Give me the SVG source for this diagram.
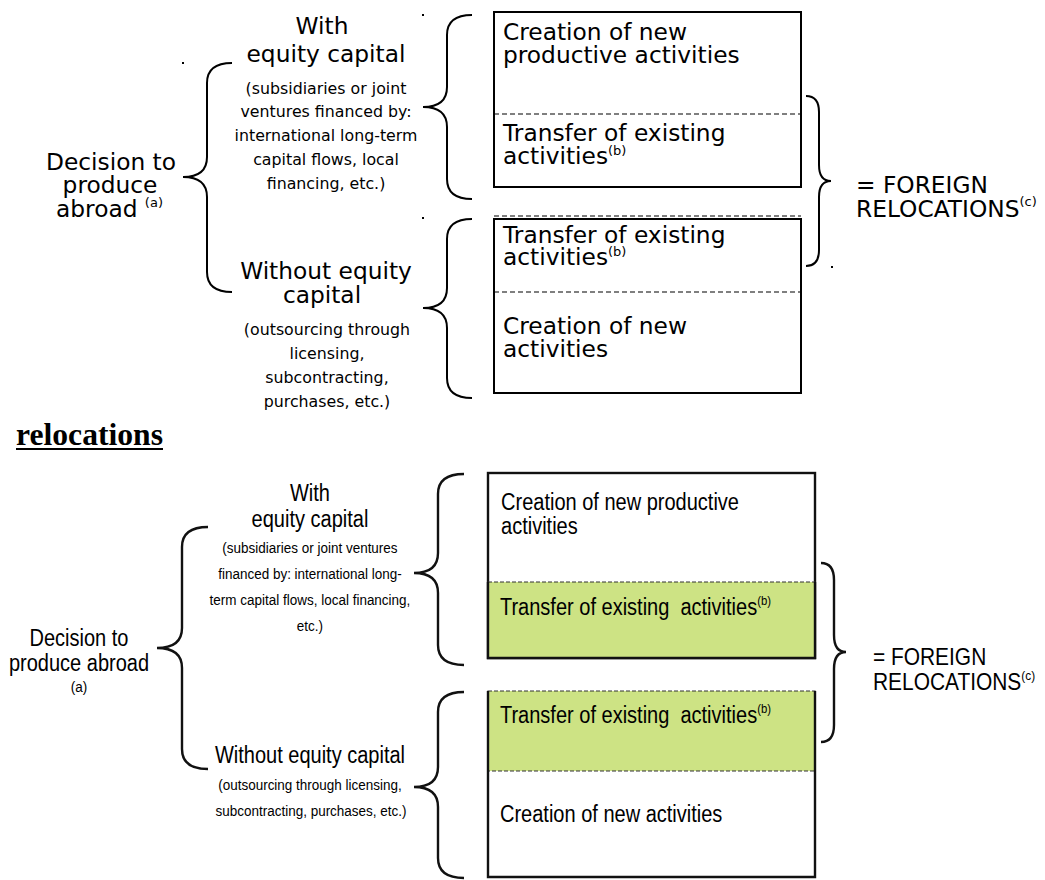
<svg xmlns="http://www.w3.org/2000/svg" width="1045" height="880" viewBox="0 0 1045 880">
<style>
.d{font-family:"DejaVu Sans","Noto Sans",sans-serif;font-size:23.3px;fill:#000}
.ds{font-family:"DejaVu Sans","Noto Sans",sans-serif;font-size:15.8px;fill:#000}
.a{font-family:"Liberation Sans",Arial,sans-serif;font-size:23px;fill:#000}
.as{font-family:"Liberation Sans",Arial,sans-serif;font-size:15.5px;fill:#000}
.sup{font-size:13px}
.mid{text-anchor:middle}
.brace{fill:none;stroke:#000;stroke-width:2}
.brace2{fill:none;stroke:#111;stroke-width:2.4}
.box{fill:#fff;stroke:#000;stroke-width:2}
.box2{fill:none;stroke:#111;stroke-width:2.4}
.dash{fill:none;stroke:#000;stroke-width:1.2;stroke-dasharray:5 3}
.green{fill:#cde384;stroke:#333;stroke-width:1.2;stroke-dasharray:4 2}
</style>

<!-- ===== TOP VERSION ===== -->
<g id="connectors-top">
<path class="brace" d="M232,63 Q207,63 207,83 L207,157 Q207,177 183,177 Q207,177 207,197 L207,272 Q207,292 232,292"/>
<path class="brace" d="M472,15 Q447,15 447,35 L447,87 Q447,107 423,107 Q447,107 447,127 L447,179 Q447,199 472,199"/>
<path class="brace" d="M472,219 Q447,219 447,239 L447,288 Q447,308 423,308 Q447,308 447,328 L447,378 Q447,398 472,398"/>
<path class="brace" d="M806,96 Q819,96 819,112 L819,165 Q819,181 831,181 Q819,181 819,197 L819,250 Q819,266 806,266"/>
<rect x="182" y="62" width="2" height="2" fill="#000"/>
<rect x="422" y="14" width="2" height="2" fill="#000"/>
<rect x="422" y="217" width="2" height="2" fill="#000"/>
<rect x="831" y="266" width="2" height="2" fill="#000"/>
</g>

<g id="top-decision">
<text class="d mid"><tspan x="111" y="170">Decision to</tspan><tspan x="110" y="193">produce</tspan><tspan x="56" y="217" style="text-anchor:start">abroad <tspan class="sup" dy="-10">(a)</tspan></tspan></text>
</g>

<g id="top-with">
<text class="d mid"><tspan x="322" y="34">With</tspan><tspan x="326" y="62">equity capital</tspan></text>
<text class="ds mid"><tspan x="326" y="94">(subsidiaries or joint</tspan><tspan x="326" y="117">ventures financed by:</tspan><tspan x="326" y="141">international long-term</tspan><tspan x="326" y="165">capital flows, local</tspan><tspan x="326" y="189">financing, etc.)</tspan></text>
</g>

<g id="top-without">
<text class="d mid"><tspan x="326" y="279">Without equity</tspan><tspan x="322" y="303">capital</tspan></text>
<text class="ds mid"><tspan x="327" y="335">(outsourcing through</tspan><tspan x="327" y="359">licensing,</tspan><tspan x="327" y="383">subcontracting,</tspan><tspan x="327" y="407">purchases, etc.)</tspan></text>
</g>

<g id="top-box1">
<rect class="box" x="494" y="12" width="307" height="175"/>
<line class="dash" x1="494" y1="114" x2="801" y2="114"/>
<text class="d"><tspan x="503" y="40">Creation of new</tspan><tspan x="503" y="63">productive activities</tspan></text>
<text class="d"><tspan x="503" y="141">Transfer of existing</tspan><tspan x="503" y="164">activities<tspan class="sup" dy="-9">(b)</tspan></tspan></text>
</g>

<g id="top-box2">
<line class="dash" x1="494" y1="216" x2="801" y2="216"/>
<rect class="box" x="494" y="219" width="307" height="174"/>
<line class="dash" x1="494" y1="292" x2="801" y2="292"/>
<text class="d"><tspan x="503" y="243">Transfer of existing</tspan><tspan x="503" y="265">activities<tspan class="sup" dy="-9">(b)</tspan></tspan></text>
<text class="d"><tspan x="503" y="334">Creation of new</tspan><tspan x="503" y="357">activities</tspan></text>
</g>

<g id="top-result">
<text class="d"><tspan x="856" y="193">= FOREIGN</tspan><tspan x="856" y="217">RELOCATIONS<tspan class="sup" dy="-11">(c)</tspan></tspan></text>
</g>

<!-- ===== HEADING ===== -->
<g id="heading">
<text x="16" y="445" font-family="'Liberation Serif','Times New Roman',serif" font-weight="bold" font-size="31" textLength="147" lengthAdjust="spacingAndGlyphs">relocations</text>
<line x1="16" y1="449" x2="163" y2="449" stroke="#000" stroke-width="2"/>
</g>

<!-- ===== BOTTOM VERSION ===== -->
<g id="connectors-bottom">
<path class="brace2" d="M208,527 Q182,527 182,547 L182,628 Q182,648 157,648 Q182,648 182,668 L182,749 Q182,769 208,769"/>
<path class="brace2" d="M464,474 Q438,474 438,494 L438,553 Q438,573 414,573 Q438,573 438,593 L438,645 Q438,665 464,665"/>
<path class="brace2" d="M464,692 Q438,692 438,712 L438,767 Q438,787 414,787 Q438,787 438,807 L438,858 Q438,878 464,878"/>
<path class="brace2" d="M821,563 Q834,563 834,580 L834,635 Q834,652 846,652 Q834,652 834,669 L834,725 Q834,742 821,742"/>
</g>

<g id="bottom-decision" transform="scale(0.87 1)">
<text class="a mid"><tspan x="90.8" y="646">Decision to</tspan><tspan x="90.8" y="671">produce abroad</tspan><tspan class="as" x="90.8" y="692">(a)</tspan></text>
</g>

<g id="bottom-with" transform="scale(0.87 1)">
<text class="a mid"><tspan x="356.3" y="501">With</tspan><tspan x="356.3" y="527">equity capital</tspan></text>
<text class="as mid"><tspan x="356.3" y="553">(subsidiaries or joint ventures</tspan><tspan x="356.3" y="579">financed by: international long-</tspan><tspan x="356.3" y="605">term capital flows, local financing,</tspan><tspan x="356.3" y="631">etc.)</tspan></text>
</g>

<g id="bottom-without" transform="scale(0.87 1)">
<text class="a mid"><tspan x="356.3" y="763">Without equity capital</tspan></text>
<text class="as mid"><tspan x="356.3" y="790">(outsourcing through licensing,</tspan><tspan x="357.5" y="816">subcontracting, purchases, etc.)</tspan></text>
</g>

<g id="bottom-box1">
<rect class="box2" x="488" y="473" width="327" height="185" fill="#fff"/>
<rect class="green" x="488" y="582" width="327" height="76"/>
<path class="box2" d="M488,582 V658 H815 V582"/>
<g transform="scale(0.87 1)">
<text class="a"><tspan x="575.9" y="510">Creation of new productive</tspan><tspan x="575.9" y="534">activities</tspan></text>
<text class="a"><tspan x="574.7" y="615">Transfer of existing&#160; activities<tspan class="sup" dy="-10">(b)</tspan></tspan></text>
</g>
</g>

<g id="bottom-box2">
<rect class="green" x="488" y="691" width="327" height="80"/>
<path class="box2" d="M488,691 V877 H815 V691"/>
<g transform="scale(0.87 1)">
<text class="a"><tspan x="574.7" y="723">Transfer of existing&#160; activities<tspan class="sup" dy="-10">(b)</tspan></tspan></text>
<text class="a"><tspan x="574.7" y="822">Creation of new activities</tspan></text>
</g>
</g>

<g id="bottom-result" transform="scale(0.91 1)">
<text class="a"><tspan x="959.3" y="665">= FOREIGN</tspan><tspan x="959.3" y="690">RELOCATIONS<tspan class="sup" dy="-10">(c)</tspan></tspan></text>
</g>
</svg>
